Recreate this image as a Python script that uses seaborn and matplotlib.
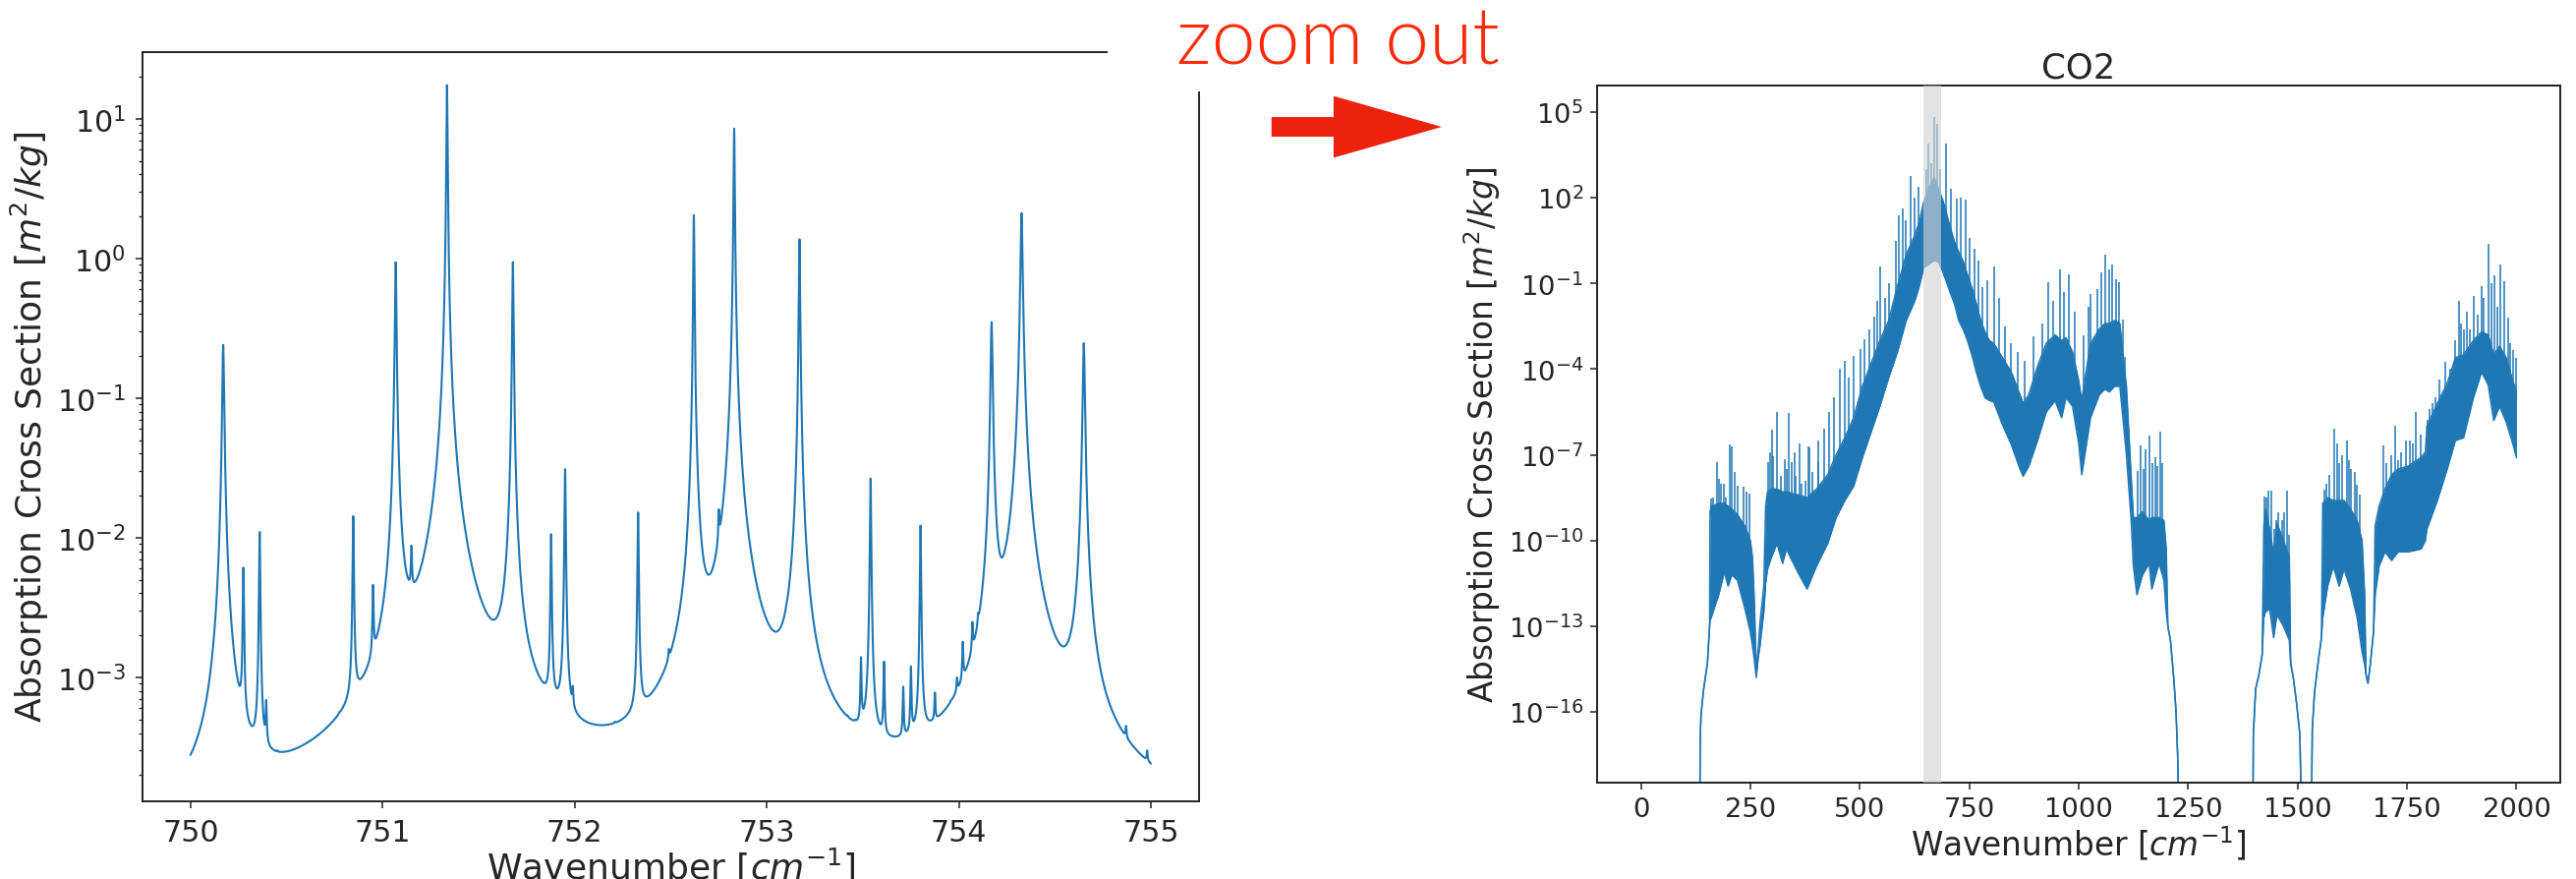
import numpy as np
import matplotlib
matplotlib.use("Agg")
import matplotlib.pyplot as plt
import seaborn as sns
from matplotlib.patches import Rectangle, FancyArrow
from matplotlib.ticker import NullLocator, FixedLocator, LogFormatterSciNotation

# ---------------------------------------------------------------------------
# Narrow window 750-755 cm^-1: line list (centre, peak cross section, HWHM)
# ---------------------------------------------------------------------------
line_center = [750.17, 750.275, 750.36, 750.394, 750.45, 750.775, 750.847, 750.95,
               751.068, 751.15, 751.335, 751.678, 751.877, 751.95, 751.99, 752.21,
               752.33, 752.49, 752.62, 752.75, 752.83, 753.10, 753.17, 753.42,
               753.46, 753.49, 753.54, 753.61, 753.71, 753.75, 753.80, 753.875,
               753.96, 753.99, 754.02, 754.07, 754.10, 754.17, 754.24, 754.326,
               754.65, 754.87, 754.98]
line_peak = [0.24, 6.1e-3, 1.1e-2, 6.9e-4, 2.6e-4, 5.0e-4, 1.43e-2, 4.6e-3,
             0.94, 8.8e-3, 17.4, 0.94, 1.06e-2, 3.1e-2, 8.7e-4, 4.5e-4,
             1.52e-2, 1.6e-3, 2.04, 1.6e-2, 8.5, 3.0e-3, 1.37, 5.0e-4,
             5.0e-4, 1.4e-3, 2.65e-2, 1.3e-3, 8.6e-4, 1.2e-3, 1.22e-2, 7.8e-4,
             6.5e-4, 1.0e-3, 1.8e-3, 2.5e-3, 2.9e-3, 0.35, 6.6e-3, 2.11,
             0.247, 4.5e-4, 3.0e-4]
line_hwhm = [0.0042, 0.0028, 0.0028, 0.0028, 0.0028, 0.0028, 0.0028, 0.0028,
             0.0033, 0.0028, 0.0024, 0.0028, 0.0028, 0.0028, 0.0028, 0.0028,
             0.0028, 0.0028, 0.0024, 0.0028, 0.0026, 0.0028, 0.0028, 0.0028,
             0.0028, 0.0028, 0.0028, 0.0028, 0.0028, 0.0028, 0.0028, 0.0028,
             0.0028, 0.0028, 0.0028, 0.0028, 0.0028, 0.0045, 0.0045, 0.0048,
             0.0048, 0.0028, 0.0028]
continuum = 5.0e-5

# ---------------------------------------------------------------------------
# Full CO2 spectrum 0-2000 cm^-1: log10 envelopes of the dense line forest
# (wavenumber, lower edge, upper edge) for each continuous stretch
# ---------------------------------------------------------------------------
seg1_wn = [134.8, 135.5, 137.4, 143.4, 152.0, 157.0, 158.0, 160.6, 177.8, 190.6,
           199.2, 207.8, 220.7, 237.8, 250.0, 255.0, 259.3, 263.6, 268.0, 272.0,
           280.8, 285.0, 289.4, 298.0, 310.8, 323.8, 332.3, 358.0, 379.5, 401.0,
           426.8, 446.0, 466.0, 486.0, 506.0, 526.0, 546.0, 566.0, 586.0, 606.0,
           626.0, 636.0, 646.0, 660.0, 670.0, 680.0, 690.0, 706.0, 716.0, 726.0,
           736.0, 746.0, 756.0, 766.0, 776.0, 786.0, 796.0, 806.0, 826.0, 846.0,
           866.0, 873.0, 886.0, 906.0, 926.0, 946.0, 961.0, 971.0, 986.0, 1000.0,
           1007.0, 1027.0, 1047.0, 1060.0, 1070.0, 1082.0, 1094.0, 1101.0, 1109.0, 1120.0,
           1125.0, 1133.0, 1146.0, 1161.0, 1167.0, 1183.5, 1194.7, 1200.0, 1203.7, 1209.7,
           1217.0, 1222.4, 1226.2, 1227.7]
seg1_lo = [-19.0, -17.0, -16.1, -15.2, -14.3, -13.0, -12.8, -12.7, -11.9, -11.1,
           -11.6, -11.2, -11.4, -12.4, -13.2, -13.7, -14.2, -14.8, -14.1, -13.7,
           -12.5, -11.5, -11.0, -10.6, -10.1, -10.8, -10.3, -11.1, -11.7, -10.9,
           -10.1, -9.2, -8.6, -8.1, -7.1, -6.2, -5.3, -4.3, -3.4, -2.3,
           -1.6, -1.1, -0.45, -0.3, -0.2, -0.25, -0.6, -1.3, -1.7, -2.3,
           -2.6, -3.0, -3.5, -4.1, -4.6, -5.0, -5.1, -5.15, -5.95, -6.64,
           -7.5, -7.75, -7.4, -6.5, -5.5, -5.1, -5.7, -5.0, -5.3, -6.6,
           -7.7, -5.7, -4.9, -4.7, -4.8, -4.6, -4.6, -5.7, -7.0, -9.3,
           -10.9, -11.9, -11.2, -10.8, -11.7, -10.8, -11.4, -12.5, -13.0, -13.5,
           -14.8, -16.0, -17.6, -19.0]
seg1_up = [-19.0, -17.0, -16.1, -15.2, -14.3, -13.0, -9.0, -8.8, -8.7, -8.7,
           -8.8, -8.9, -9.1, -9.5, -10.0, -10.6, -12.2, -14.6, -13.8, -12.9,
           -11.6, -8.8, -8.3, -8.2, -8.2, -8.3, -8.3, -8.4, -8.5, -8.2,
           -7.7, -7.0, -6.4, -5.7, -4.6, -3.8, -3.0, -2.3, -1.1, 0.0,
           0.7, 1.16, 1.85, 2.4, 2.7, 2.3, 1.9, 1.0, 0.47, 0.1,
           -0.22, -0.7, -1.14, -1.7, -2.28, -2.7, -3.0, -3.1, -3.6, -4.1,
           -4.9, -5.2, -4.9, -3.9, -3.1, -2.8, -3.0, -2.9, -3.4, -4.4,
           -5.1, -3.1, -2.6, -2.4, -2.4, -2.3, -2.4, -3.5, -4.6, -7.8,
           -9.2, -9.2, -9.0, -9.3, -9.2, -9.2, -9.3, -10.3, -13.0, -13.5,
           -14.8, -16.0, -17.6, -19.0]

seg2_wn = [1398.2, 1399.0, 1404.2, 1411.7, 1419.1, 1422.9, 1426.6, 1436.3, 1445.3, 1452.8,
           1467.8, 1481.2, 1484.2, 1490.2, 1497.7, 1505.2, 1508.2]
seg2_lo = [-19.0, -16.8, -15.2, -14.7, -14.0, -12.7, -12.5, -12.4, -13.4, -12.6,
           -13.0, -13.5, -14.3, -14.8, -15.7, -16.8, -19.0]
seg2_up = [-19.0, -16.8, -15.2, -14.7, -14.0, -9.5, -8.9, -9.6, -10.5, -9.4,
           -10.0, -10.6, -14.3, -14.8, -15.7, -16.8, -19.0]

seg3_wn = [1532.1, 1533.6, 1538.8, 1546.3, 1554.5, 1557.5, 1568.7, 1581.5, 1595.0, 1606.1,
           1621.0, 1636.0, 1647.3, 1653.3, 1656.3, 1660.8, 1666.0, 1673.5, 1677.2, 1686.2,
           1699.6, 1714.6, 1729.6, 1752.0, 1782.0, 1792.0, 1795.4, 1819.3, 1841.8, 1860.5,
           1879.2, 1901.6, 1920.3, 1935.3, 1948.0, 1961.4, 1976.4, 1991.4, 2000.0]
seg3_lo = [-19.0, -16.6, -15.3, -14.35, -13.4, -12.7, -11.6, -10.9, -11.6, -11.0,
           -11.7, -12.7, -13.9, -14.35, -14.7, -15.0, -14.35, -13.2, -11.9, -10.9,
           -10.4, -10.7, -10.4, -10.4, -10.3, -10.0, -9.6, -8.6, -7.5, -6.5,
           -6.4, -5.0, -4.1, -4.55, -5.8, -5.3, -5.85, -6.6, -7.1]
seg3_up = [-19.0, -16.6, -15.3, -14.35, -13.4, -8.7, -8.5, -8.6, -8.6, -8.6,
           -8.9, -9.3, -10.0, -11.9, -14.7, -15.0, -14.35, -13.2, -9.5, -8.8,
           -8.2, -7.7, -7.5, -7.4, -7.1, -6.9, -6.0, -5.2, -4.5, -3.6,
           -3.5, -3.0, -2.7, -2.8, -3.5, -3.2, -3.6, -4.4, -4.8]

# individual lines sticking out above the forest (wavenumber, log10 peak)
spike_wn = [160.6, 165.0, 173.6, 177.8, 182.0, 190.6, 195.0, 202.0, 207.8, 213.8,
            220.7, 233.5, 242.0, 248.0,
            291.0, 296.0, 300.0, 302.0, 310.0, 319.5, 328.0, 334.0, 337.0, 345.0,
            351.0, 353.7, 362.0, 366.5, 375.0, 383.5, 385.5, 392.0, 405.0, 405.6,
            418.0, 430.6, 440.6, 453.6, 465.6, 475.6, 485.7, 500.7, 511.0, 522.0,
            532.0, 539.0, 545.7, 557.8, 567.8, 582.8, 590.0, 598.0, 606.0, 616.0,
            624.0, 634.0, 651.0, 656.0, 664.0, 670.0, 676.0, 684.0, 696.0, 708.0,
            721.0, 731.0, 741.0, 751.0, 761.0, 771.0, 781.0, 791.0, 806.0, 818.0,
            831.0, 846.0, 861.0, 876.0, 896.0, 916.0, 931.0, 941.0, 957.0, 966.6,
            977.0, 991.0, 1011.0, 1021.7, 1027.0, 1041.7, 1051.7, 1060.0, 1068.7, 1077.0,
            1086.0, 1092.0, 1100.0, 1105.0,
            1135.0, 1142.4, 1147.6, 1153.6, 1162.6, 1168.6, 1174.5, 1179.8, 1185.8, 1191.0,
            1425.1, 1429.0, 1434.0, 1440.1, 1447.0, 1450.6, 1456.5, 1464.0, 1469.3, 1475.2,
            1480.5,
            1561.3, 1565.0, 1572.5, 1584.5, 1589.7, 1595.0, 1602.4, 1612.1, 1617.4, 1622.6,
            1630.0, 1636.0, 1642.0, 1695.9, 1703.4, 1713.0, 1722.0, 1729.6, 1737.0, 1746.8,
            1755.7, 1763.2, 1770.7, 1782.0, 1797.0, 1800.6, 1808.1, 1815.6, 1823.1, 1830.5,
            1838.0, 1849.2, 1860.5, 1868.0, 1873.2, 1879.2, 1886.6, 1894.1, 1901.6, 1910.6,
            1920.3, 1925.5, 1935.3, 1942.8, 1950.3, 1955.5, 1963.0, 1972.7, 1980.1, 1985.4,
            1992.9, 1998.9]
spike_top = [-8.53, -8.5, -7.27, -7.84, -8.0, -8.0, -8.5, -6.64, -6.7, -7.6,
             -8.07, -8.13, -8.3, -8.36,
             -7.27, -6.9, -6.12, -7.04, -5.49, -7.73, -7.15, -7.5, -5.55, -7.27,
             -6.9, -7.73, -6.6, -8.0, -7.9, -6.7, -6.75, -7.6, -7.27, -6.5,
             -6.1, -5.49, -5.0, -4.0, -3.7, -4.3, -3.54, -3.3, -2.97, -2.6,
             -2.17, -1.6, -0.39, -1.5, -1.0, 0.5, 1.39, 1.62, 1.2, 2.76,
             2.0, 2.4, 3.0, 3.9, 3.2, 4.83, 4.6, 3.0, 3.9, 2.3,
             1.96, 2.0, 1.94, 0.6, 0.2, -0.2, -1.13, -0.9, -0.4, -1.5,
             -2.5, -3.1, -3.4, -3.7, -2.85, -2.4, -0.96, -1.6, -0.5, -1.3,
             -0.68, -2.0, -2.8, -1.8, -1.36, -1.2, -0.6, 0.01, -0.5, -0.33,
             -0.87, -0.95, -2.26, -3.57,
             -7.57, -6.67, -7.5, -6.8, -6.31, -7.3, -7.08, -7.4, -6.18, -7.3,
             -8.47, -8.5, -8.27, -8.27, -9.6, -9.3, -9.0, -9.3, -9.0, -8.27,
             -9.8,
             -8.22, -8.0, -7.7, -6.1, -6.6, -7.3, -7.0, -6.5, -7.2, -7.5,
             -7.6, -8.06, -8.4, -6.67, -7.3, -7.0, -6.0, -7.2, -6.9, -6.5,
             -6.5, -6.6, -5.5, -6.3, -5.77, -5.4, -5.2, -5.0, -4.38, -4.9,
             -3.73, -4.0, -3.0, -1.6, -2.4, -2.6, -2.0, -2.6, -1.44, -2.1,
             -1.11, -1.5, 0.40, -1.0, -0.71, -1.8, -0.33, -0.92, -2.2, -3.08,
             -3.32, -3.6]

zoom_band = (645.0, 686.0)
co2_yticks = [1e-16, 1e-13, 1e-10, 1e-7, 1e-4, 1e-1, 1e2, 1e5]
co2_xticks = [0, 250, 500, 750, 1000, 1250, 1500, 1750, 2000]
window_xticks = [750, 751, 752, 753, 754, 755]

BLUE = "#1f77b4"
SPINE = "#222222"

sns.set_style("ticks")
plt.rcParams["font.family"] = ["DejaVu Sans"]
plt.rcParams["mathtext.fontset"] = "dejavusans"

fig = plt.figure(figsize=(26.21, 8.95), dpi=100)
ax1 = fig.add_axes([0.05532, 0.08860, 0.41015, 0.85106])
ax2 = fig.add_axes([0.61999, 0.10984, 0.37390, 0.79185])

# ---------------- narrow window: Lorentzian line-by-line sum ----------------
centers = np.array(line_center)
peaks = np.array(line_peak)
hwhm = np.array(line_hwhm)


def lorentz(x, c, g):
    return g ** 2 / ((x - c) ** 2 + g ** 2)


# strengths chosen so that the summed spectrum reaches each listed peak value
M = lorentz(centers[:, None], centers[None, :], hwhm[None, :])
strength = peaks.copy()
for _ in range(300):
    others = M @ strength - strength
    strength = np.maximum(peaks - continuum - others, 0.02 * peaks)

wn_fine = np.union1d(np.linspace(750.0, 755.0, 6001), centers)
sigma = continuum + lorentz(wn_fine[:, None], centers[None, :], hwhm[None, :]) @ strength

sns.lineplot(x=wn_fine, y=sigma, ax=ax1, color=BLUE, linewidth=1.5,
             estimator=None, sort=False)
ax1.set_yscale("log")
ax1.set_xlim(749.75, 755.25)
ax1.set_ylim(10 ** -3.885, 10 ** 1.477)
ax1.xaxis.set_major_locator(FixedLocator(window_xticks))
ax1.set_xticklabels([str(v) for v in window_xticks])
ax1.set_xlabel(r"Wavenumber [$cm^{-1}$]", fontsize=26, labelpad=-1)
ax1.set_ylabel(r"Absorption Cross Section [$m^2/kg$]", fontsize=26)
ax1.tick_params(axis="both", which="major", labelsize=21.7, length=4.7, width=1.1,
                pad=7.6, color=SPINE)
ax1.tick_params(axis="y", which="minor", length=2.6, width=0.9, color=SPINE)

# ---------------- full CO2 spectrum ----------------
segments = [(seg1_wn, seg1_lo, seg1_up), (seg2_wn, seg2_lo, seg2_up),
            (seg3_wn, seg3_lo, seg3_up)]
for wn, lo, up in segments:
    wn = np.asarray(wn)
    lo_v = 10.0 ** np.asarray(lo)
    up_v = 10.0 ** np.asarray(up)
    ax2.fill_between(wn, lo_v, up_v, color=BLUE, linewidth=0, zorder=2)
    sns.lineplot(x=wn, y=lo_v, ax=ax2, color=BLUE, linewidth=1.1,
                 estimator=None, sort=False, zorder=2)
    sns.lineplot(x=wn, y=up_v, ax=ax2, color=BLUE, linewidth=1.1,
                 estimator=None, sort=False, zorder=2)

all_wn = np.concatenate([seg1_wn, seg2_wn, seg3_wn])
all_up = np.concatenate([seg1_up, seg2_up, seg3_up])
spike_base = np.interp(spike_wn, all_wn, all_up) - 0.3
ax2.vlines(spike_wn, 10.0 ** spike_base, 10.0 ** np.asarray(spike_top),
           color=BLUE, linewidth=1.1, zorder=2)

ax2.axvspan(*zoom_band, color="#d3d3d3", alpha=0.62, linewidth=0, zorder=3)

ax2.set_yscale("log")
ax2.set_xlim(-100, 2100)
ax2.set_ylim(10 ** -18.47, 10 ** 5.93)
ax2.xaxis.set_major_locator(FixedLocator(co2_xticks))
ax2.set_xticklabels([str(v) for v in co2_xticks])
ax2.yaxis.set_major_locator(FixedLocator(co2_yticks))
ax2.yaxis.set_major_formatter(LogFormatterSciNotation())
ax2.yaxis.set_minor_locator(NullLocator())
ax2.set_title("CO2", fontsize=25.6, pad=6)
ax2.set_xlabel(r"Wavenumber [$cm^{-1}$]", fontsize=23.6, labelpad=1)
ax2.set_ylabel(r"Absorption Cross Section [$m^2/kg$]", fontsize=23.6)
ax2.tick_params(axis="both", which="major", labelsize=19.7, length=4.7, width=1.1,
                pad=5.4, color=SPINE)

for ax in (ax1, ax2):
    for sp in ax.spines.values():
        sp.set_visible(True)
        sp.set_color(SPINE)
        sp.set_linewidth(1.4)

# ---------------- "zoom out" annotation ----------------
fig.patches.append(Rectangle((0.4300, 0.8950), 0.0430, 0.1050,
                             transform=fig.transFigure, facecolor="white",
                             edgecolor="none", zorder=5))
fig.text(0.4567, 0.9266, "zoom out", color="#ff2a0a", fontsize=58,
         family=["Lato", "DejaVu Sans"], fontweight=300,
         ha="left", va="baseline", zorder=6)
fig.patches.append(FancyArrow(0.4936, 0.8547, 0.0661, 0.0, width=0.0223,
                              head_width=0.0701, head_length=0.0420,
                              length_includes_head=True, transform=fig.transFigure,
                              facecolor="#ec220f", edgecolor="none", zorder=6))

fig.savefig("out.png", dpi=100)
